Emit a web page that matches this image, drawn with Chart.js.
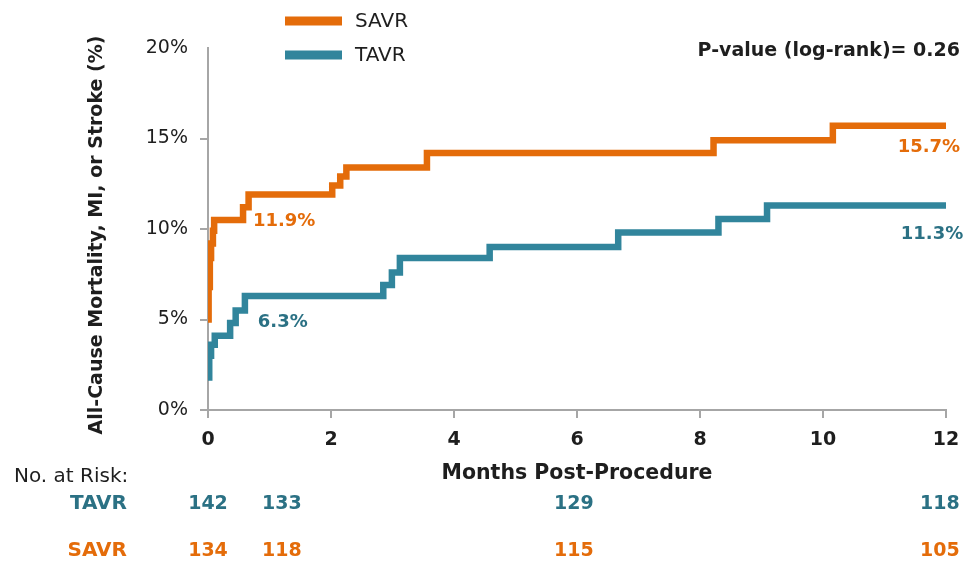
<!DOCTYPE html>
<html><head><meta charset="utf-8">
<script src="https://cdn.jsdelivr.net/npm/chart.js@4.4.1/dist/chart.umd.min.js"></script>
<style>html,body{margin:0;padding:0;background:#fff;overflow:hidden}canvas{display:block}</style>
</head><body>
<canvas id="c" width="967" height="562"></canvas>
<script>
// ---- data ----
const savrMonths = [0, 0.01, 0.03, 0.05, 0.08, 0.1, 0.57, 0.66, 2.02, 2.15, 2.25, 3.56, 8.22, 10.16, 12];
const savrRate   = [5.0, 6.8, 8.4, 9.2, 9.9, 10.5, 11.2, 11.9, 12.4, 12.9, 13.4, 14.2, 14.9, 15.7, 15.7];
const tavrMonths = [0, 0.02, 0.05, 0.11, 0.36, 0.45, 0.6, 2.85, 2.99, 3.12, 4.58, 6.67, 8.3, 9.09, 12];
const tavrRate   = [1.8, 3.0, 3.6, 4.1, 4.8, 5.5, 6.3, 6.9, 7.6, 8.4, 9.0, 9.8, 10.55, 11.3, 11.3];
const xTickValues = [0, 2, 4, 6, 8, 10, 12];
const yTickValues = [0, 5, 10, 15, 20];
const riskMonths = [0, 1.2, 5.95, 11.9];
const riskTAVR = [142, 133, 129, 118];
const riskSAVR = [134, 118, 115, 105];
const seriesNames = ['SAVR', 'TAVR'];
const pValueText = 'P-value (log-rank)= 0.26';

// ---- styles ----
const ORANGE = '#E46C0A';
const TEAL = '#31859C';
const TEAL_TEXT = '#2B7184';
const GRAY = '#A6A6A6';
const INK = '#1E1E1E';
const FAM = "'DejaVu Sans', 'Liberation Sans', Arial, sans-serif";

const pts = (xs, ys) => xs.map((m, i) => ({x: m, y: ys[i]}));

const overlay = {
  id: 'overlay',
  afterDraw(chart) {
    const {ctx, chartArea: ca, scales: {x, y}} = chart;
    ctx.save();
    ctx.textBaseline = 'middle';

    // y-axis title
    ctx.save();
    ctx.translate(97, (ca.top + ca.bottom) / 2 + 6);
    ctx.rotate(-Math.PI / 2);
    ctx.textAlign = 'center';
    ctx.fillStyle = INK;
    ctx.font = "bold 19px " + FAM;
    ctx.fillText('All-Cause Mortality, MI, or Stroke (%)', 0, 0);
    ctx.restore();

    // legend
    const leg = [[seriesNames[0], ORANGE, 21], [seriesNames[1], TEAL, 55]];
    leg.forEach(([name, col, yy]) => {
      ctx.fillStyle = col;
      ctx.fillRect(285, yy - 4.5, 57, 9);
      ctx.fillStyle = INK;
      ctx.font = "20px " + FAM;
      ctx.textAlign = 'left';
      ctx.fillText(name, 355, yy + 1);
    });

    // p-value
    ctx.font = "bold 19px " + FAM;
    ctx.textAlign = 'right';
    ctx.fillStyle = INK;
    ctx.fillText(pValueText, 960, 51);

    // value labels on curves
    const lab = (txt, mx, vy, align, col, dy) => {
      ctx.font = "bold 18px " + FAM;
      ctx.textAlign = align;
      ctx.fillStyle = col;
      ctx.fillText(txt, x.getPixelForValue(mx), y.getPixelForValue(vy) + dy);
    };
    lab(savrRate[7].toFixed(1) + '%', 0.73, savrRate[5], 'left', ORANGE, 1);
    lab(tavrRate[6].toFixed(1) + '%', 0.81, tavrRate[6], 'left', TEAL_TEXT, 26);
    lab(savrRate[savrRate.length - 1].toFixed(1) + '%', 12.23, savrRate[savrRate.length - 1], 'right', ORANGE, 21);
    lab(tavrRate[tavrRate.length - 1].toFixed(1) + '%', 12.28, tavrRate[tavrRate.length - 1], 'right', TEAL_TEXT, 29);

    // number at risk
    ctx.fillStyle = INK;
    ctx.font = "20px " + FAM;
    ctx.textAlign = 'left';
    ctx.fillText('No. at Risk:', 14, 477);
    ctx.font = "bold 20px " + FAM;
    ctx.textAlign = 'right';
    ctx.fillStyle = TEAL_TEXT;
    ctx.fillText(seriesNames[1], 127, 504);
    ctx.fillStyle = ORANGE;
    ctx.fillText(seriesNames[0], 127, 551);
    ctx.font = "bold 19px " + FAM;
    ctx.textAlign = 'center';
    riskMonths.forEach((m, i) => {
      const px = x.getPixelForValue(m);
      ctx.fillStyle = TEAL_TEXT;
      ctx.fillText(String(riskTAVR[i]), px, 504);
      ctx.fillStyle = ORANGE;
      ctx.fillText(String(riskSAVR[i]), px, 551);
    });
    ctx.restore();
  }
};

new Chart(document.getElementById('c'), {
  type: 'line',
  data: {
    datasets: [
      {label: seriesNames[0], data: pts(savrMonths, savrRate), borderColor: ORANGE, borderWidth: 6.5,
       stepped: 'before', pointRadius: 0, fill: false, borderCapStyle: 'butt', borderJoinStyle: 'miter'},
      {label: seriesNames[1], data: pts(tavrMonths, tavrRate), borderColor: TEAL, borderWidth: 6.5,
       stepped: 'before', pointRadius: 0, fill: false, borderCapStyle: 'butt', borderJoinStyle: 'miter'}
    ]
  },
  options: {
    responsive: false, animation: false, devicePixelRatio: 1,
    layout: {padding: {left: 0, top: 48, right: 21, bottom: 0}},
    plugins: {legend: {display: false}, tooltip: {enabled: false}},
    scales: {
      x: {
        type: 'linear', min: 0, max: 12,
        afterBuildTicks: s => { s.ticks = xTickValues.map(v => ({value: v})); },
        afterFit: s => { s.height = 152; s.paddingLeft = 0; s.paddingRight = 0; },
        ticks: {font: {family: FAM, size: 19, weight: 'bold'}, color: INK, padding: 11, maxRotation: 0, autoSkip: false},
        grid: {drawOnChartArea: false, drawTicks: true, tickLength: 8, color: GRAY, lineWidth: 2},
        border: {display: true, color: GRAY, width: 2},
        title: {display: true, text: 'Months Post-Procedure', color: INK,
                font: {family: FAM, size: 20.5, weight: 'bold'}, padding: {top: 0, bottom: 76}}
      },
      y: {
        type: 'linear', min: 0, max: 20,
        afterBuildTicks: s => { s.ticks = yTickValues.map(v => ({value: v})); },
        afterFit: s => { s.width = 208; s.paddingTop = 0; s.paddingBottom = 0; },
        ticks: {font: {family: FAM, size: 19}, color: INK, padding: 12, callback: v => v + '%'},
        grid: {drawOnChartArea: false, drawTicks: true, tickLength: 8, lineWidth: 2,
               tickColor: c => (c.tick && c.tick.value === 20) ? 'rgba(0,0,0,0)' : GRAY, color: GRAY},
        border: {display: true, color: GRAY, width: 2}
      }
    }
  },
  plugins: [overlay]
});
</script>
</body></html>
